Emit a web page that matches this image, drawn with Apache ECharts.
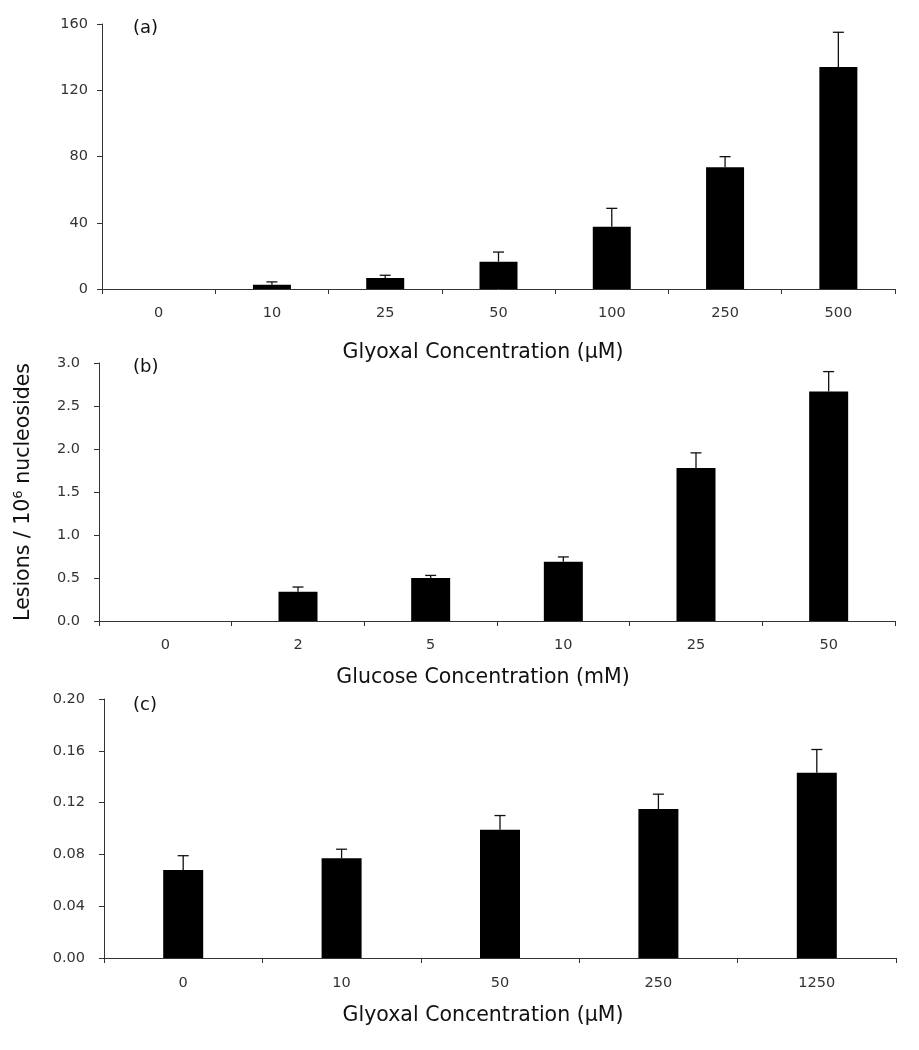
<!DOCTYPE html>
<html>
<head>
<meta charset="utf-8">
<script src="https://cdn.jsdelivr.net/npm/echarts@6/dist/echarts.min.js"></script>
<style>
html,body{margin:0;padding:0;background:#fff;}
#chart{width:919px;height:1050px;}
</style>
</head>
<body>
<div id="chart"></div>
<script>
// Panel (a): Glyoxal (µM)
const catsA = ['0', '10', '25', '50', '100', '250', '500'];
const valsA = [0, 2.5, 6.6, 16.5, 37.6, 73.5, 134];
const errsA = [0, 1.8, 1.7, 5.8, 11.1, 6.4, 21];
const ticksA = { min: 0, max: 160, interval: 40 };

// Panel (b): Glucose (mM)
const catsB = ['0', '2', '5', '10', '25', '50'];
const valsB = [0, 0.34, 0.50, 0.69, 1.78, 2.67];
const errsB = [0, 0.055, 0.03, 0.055, 0.175, 0.23];
const ticksB = { min: 0, max: 3, interval: 0.5 };

// Panel (c): Glyoxal (µM)
const catsC = ['0', '10', '50', '250', '1250'];
const valsC = [0.068, 0.077, 0.099, 0.115, 0.143];
const errsC = [0.011, 0.007, 0.011, 0.0115, 0.018];
const ticksC = { min: 0, max: 0.2, interval: 0.04 };

const FONT = '"DejaVu Sans", Verdana, sans-serif';
const AX = '#333';
const TICK_COLOR = '#333';
const TITLE_COLOR = '#111';

function errRender(params, api) {
  const x = api.value(0), y = api.value(1), e = api.value(2);
  if (!(e > 0)) return null;
  const base = api.coord([x, y]);
  const top = api.coord([x, y + e]);
  const half = 5.5;
  const st = { stroke: '#111', lineWidth: 1.3 };
  return {
    type: 'group',
    children: [
      { type: 'line', shape: { x1: base[0], y1: base[1], x2: top[0], y2: top[1] }, style: st },
      { type: 'line', shape: { x1: top[0] - half, y1: top[1], x2: top[0] + half, y2: top[1] }, style: st }
    ]
  };
}

function xAxisDef(idx, cats, margin) {
  return {
    type: 'category', gridIndex: idx, data: cats,
    axisLine: { lineStyle: { color: AX, width: 1 } },
    axisTick: { show: true, length: 5, lineStyle: { color: AX } },
    axisLabel: { color: TICK_COLOR, fontSize: 14.5, fontFamily: FONT, margin: margin }
  };
}
function yAxisDef(idx, t, dec, margin, extra) {
  return Object.assign({
    type: 'value', gridIndex: idx, min: t.min, max: t.max, interval: t.interval,
    splitLine: { show: false },
    axisLine: { show: true, lineStyle: { color: AX, width: 1 } },
    axisTick: { show: true, length: 5, lineStyle: { color: AX } },
    axisLabel: { color: TICK_COLOR, fontSize: 14.5, fontFamily: FONT, margin: margin,
      formatter: v => v.toFixed(dec) }
  }, extra || {});
}

const option = {
  backgroundColor: '#fff',
  animation: false,
  grid: [
    { left: 102, right: 24, top: 24, height: 265 },
    { left: 99, right: 24, top: 363, height: 258 },
    { left: 104, right: 23, top: 699, height: 259 }
  ],
  xAxis: [
    xAxisDef(0, catsA, 17),
    xAxisDef(1, catsB, 17),
    xAxisDef(2, catsC, 18)
  ],
  yAxis: [
    yAxisDef(0, ticksA, 0, 14),
    yAxisDef(1, ticksB, 1, 19, {
      name: 'Lesions / 10{sup|6} nucleosides',
      nameLocation: 'middle',
      nameRotate: 90,
      nameGap: 64,
      nameTextStyle: { color: TITLE_COLOR, fontSize: 20.5, fontFamily: FONT,
        rich: { sup: { fontSize: 13, fontFamily: FONT, color: TITLE_COLOR, padding: [0, 0, 10, 0] } } }
    }),
    yAxisDef(2, ticksC, 2, 19)
  ],
  graphic: [
    { type: 'text', left: 133, top: 19, style: { text: '(a)', fontSize: 18, fontFamily: FONT, fill: TITLE_COLOR } },
    { type: 'text', left: 133, top: 358, style: { text: '(b)', fontSize: 18, fontFamily: FONT, fill: TITLE_COLOR } },
    { type: 'text', left: 133, top: 696, style: { text: '(c)', fontSize: 18, fontFamily: FONT, fill: TITLE_COLOR } },
    { type: 'text', x: 483, y: 353, style: { text: 'Glyoxal Concentration (μM)', fontSize: 20.5, fontFamily: FONT, fill: TITLE_COLOR, align: 'center', verticalAlign: 'middle' } },
    { type: 'text', x: 483, y: 678, style: { text: 'Glucose Concentration (mM)', fontSize: 20.5, fontFamily: FONT, fill: TITLE_COLOR, align: 'center', verticalAlign: 'middle' } },
    { type: 'text', x: 483, y: 1016, style: { text: 'Glyoxal Concentration (μM)', fontSize: 20.5, fontFamily: FONT, fill: TITLE_COLOR, align: 'center', verticalAlign: 'middle' } }
  ],
  series: [
    { type: 'bar', xAxisIndex: 0, yAxisIndex: 0, data: valsA, barWidth: 38, itemStyle: { color: '#000' } },
    { type: 'custom', xAxisIndex: 0, yAxisIndex: 0, renderItem: errRender, z: 5,
      data: catsA.map((c, i) => [i, valsA[i], errsA[i]]) },
    { type: 'bar', xAxisIndex: 1, yAxisIndex: 1, data: valsB, barWidth: 39, itemStyle: { color: '#000' } },
    { type: 'custom', xAxisIndex: 1, yAxisIndex: 1, renderItem: errRender, z: 5,
      data: catsB.map((c, i) => [i, valsB[i], errsB[i]]) },
    { type: 'bar', xAxisIndex: 2, yAxisIndex: 2, data: valsC, barWidth: 40, itemStyle: { color: '#000' } },
    { type: 'custom', xAxisIndex: 2, yAxisIndex: 2, renderItem: errRender, z: 5,
      data: catsC.map((c, i) => [i, valsC[i], errsC[i]]) }
  ]
};

const chart = echarts.init(document.getElementById('chart'), null, { renderer: 'canvas' });
chart.setOption(option);
</script>
</body>
</html>
